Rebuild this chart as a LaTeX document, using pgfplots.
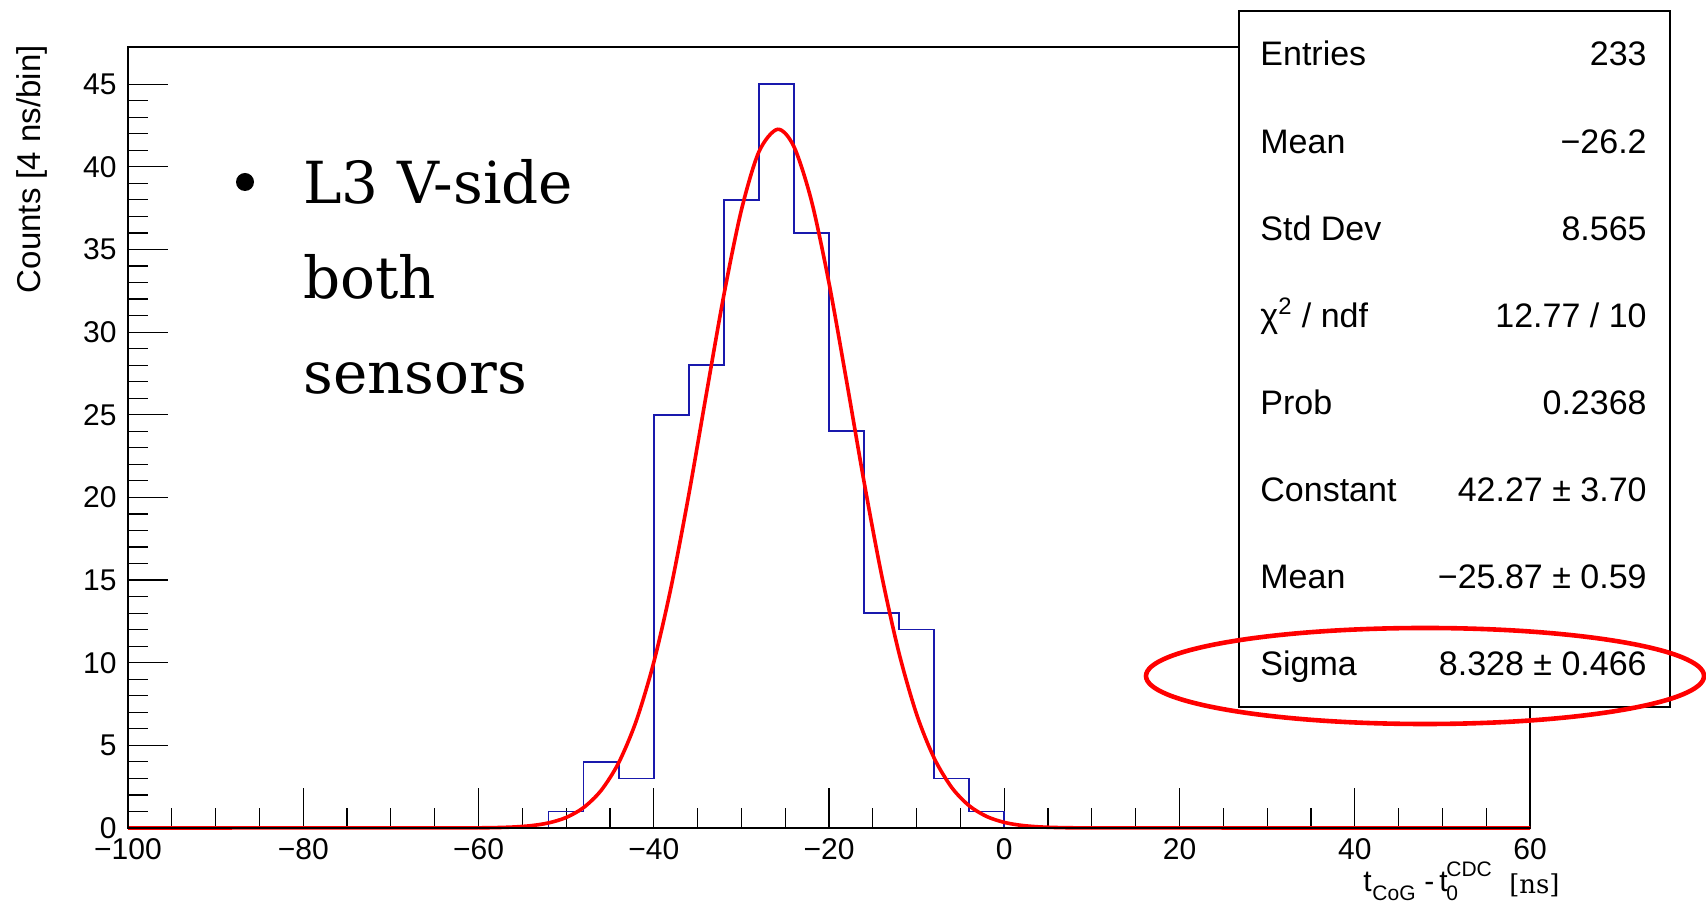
\documentclass[border=0pt]{standalone}
\usepackage{fontspec}
\setsansfont{Liberation Sans}
\newfontfamily\notefont{DejaVu Serif}
\usepackage{pgfplots}
\pgfplotsset{compat=1.18}

\definecolor{histblue}{rgb}{0.1,0.1,0.68}
\definecolor{fitred}{rgb}{1,0,0}

\newcommand\statfont{\sffamily\fontsize{17}{17}\selectfont}
\newcommand\subfont{\sffamily\fontsize{10.5}{10.5}\selectfont}
\newcommand\labfont{\sffamily\fontsize{15}{15}\selectfont}

\begin{document}
\begin{tikzpicture}
\useasboundingbox (0,0) rectangle (853pt,451.5pt);
\begin{axis}[
  at={(64pt,37.5pt)}, anchor=south west,
  scale only axis, width=701pt, height=390.5pt,
  xmin=-100, xmax=60, ymin=0, ymax=47.25,
  xtick={-100,-80,...,60},
  xticklabels={−100,−80,−60,−40,−20,0,20,40,60},
  minor x tick num=3,
  ytick={0,5,...,45},
  minor y tick num=4,
  xtick pos=lower, ytick pos=left,
  tick align=inside,
  major tick length=20pt, minor tick length=10pt,
  every tick/.style={black, line width=0.6pt},
  axis line style={line width=0.6pt},
  /pgf/number format/assume math mode=true,
  ticklabel style={font=\labfont, inner sep=0pt},
  xticklabel style={anchor=north, yshift=-5pt},
  yticklabel style={anchor=east, xshift=-5.5pt},
  clip=false,
]
% histogram, 4 ns bins
\addplot[const plot, histblue, line width=0.8pt] coordinates {
  (-100,0) (-52,1) (-48,4) (-44,3) (-40,25) (-36,28) (-32,38) (-28,45)
  (-24,36) (-20,24) (-16,13) (-12,12) (-8,3) (-4,1) (0,0) (60,0)};
% gaussian fit: Constant 42.27, Mean -25.87, Sigma 8.328
\addplot[fitred, line width=1.8pt] coordinates {(-100,0) (-60,0.0095)};
\addplot[fitred, line width=1.8pt, smooth, tension=0.5] coordinates {
  (-60,0.0095) (-58,0.0247) (-56,0.0607) (-54,0.141) (-52,0.308)
  (-50,0.635) (-48,1.238) (-46,2.278) (-44,3.951) (-42,6.476)
  (-40,10.02) (-38,14.63) (-36,20.17) (-34,26.25) (-32,32.24)
  (-30,37.38) (-28,40.91) (-25.87,42.27) (-24,41.22) (-22,37.94)
  (-20,32.97) (-18,27.05) (-16,20.94) (-14,15.31) (-12,10.56)
  (-10,6.877) (-8,4.228) (-6,2.454) (-4,1.344) (-2,0.695)
  (0,0.339) (2,0.156) (4,0.068) (6,0.028) (8,0.011) (10,0.004)};
\addplot[fitred, line width=1.8pt] coordinates {(10,0.004) (60,0)};
\draw[line width=1.4pt] (rel axis cs:0,1) -- (rel axis cs:0,0) -- (rel axis cs:1,0);
\end{axis}

\begin{scope}[x=0.5pt, y=-0.5pt, shift={(0pt,451.5pt)}]
  % axis titles
  \node[rotate=90, anchor=base east, inner sep=0pt, font=\sffamily\fontsize{16.5}{16.5}\selectfont]
    at (41,45) {Counts [4 ns/bin]};
  \node[anchor=base west, inner sep=0pt, font=\labfont] at (1363,892) {t};
  \node[anchor=base west, inner sep=0pt, font=\subfont] at (1372,901) {CoG};
  \node[anchor=base west, inner sep=0pt, font=\labfont] at (1424,892) {-};
  \node[anchor=base west, inner sep=0pt, font=\labfont] at (1439,892) {t};
  \node[anchor=base west, inner sep=0pt, font=\subfont] at (1446,877) {CDC};
  \node[anchor=base west, inner sep=0pt, font=\subfont] at (1446,901) {0};
  \node[anchor=base east, inner sep=0pt, font=\notefont\fontsize{13}{13}\selectfont] at (1560,894) {[ns]};

  % annotation text
  \fill (245,182) circle [radius=9];
  \begin{scope}[every node/.style={anchor=base west, inner sep=0pt, font=\notefont\fontsize{29}{29}\selectfont}]
    \node at (303,204) {L3 V-side};
    \node at (303,299) {both};
    \node at (303,394) {sensors};
  \end{scope}

  % statistics box
  \draw[line width=0.8pt, fill=white] (1239,11) rectangle (1670,707);
  \begin{scope}[every node/.style={inner sep=0pt, font=\statfont}]
    \node[anchor=base west] at (1260,66.0)  {Entries};
    \node[anchor=base east] at (1647,66.0)  {233};
    \node[anchor=base west] at (1260,153.1) {Mean};
    \node[anchor=base east] at (1647,153.1) {−26.2};
    \node[anchor=base west] at (1260,240.2) {Std Dev};
    \node[anchor=base east] at (1647,240.2) {8.565};
    \node[anchor=base west] at (1260,327.3) {χ\textsuperscript{2} / ndf};
    \node[anchor=base east] at (1647,327.3) {12.77 / 10};
    \node[anchor=base west] at (1260,414.4) {Prob};
    \node[anchor=base east] at (1647,414.4) {0.2368};
    \node[anchor=base west] at (1260,501.5) {Constant};
    \node[anchor=base east] at (1647,501.5) {42.27 ± 3.70};
    \node[anchor=base west] at (1260,588.6) {Mean};
    \node[anchor=base east] at (1647,588.6) {−25.87 ± 0.59};
    \node[anchor=base west] at (1260,675.7) {Sigma};
    \node[anchor=base east] at (1647,675.7) {8.328 ± 0.466};
  \end{scope}

  % highlight around the width
  \draw[fitred, line width=2.3pt] (1425,676) ellipse [x radius=279, y radius=48];
\end{scope}
\end{tikzpicture}
\end{document}
